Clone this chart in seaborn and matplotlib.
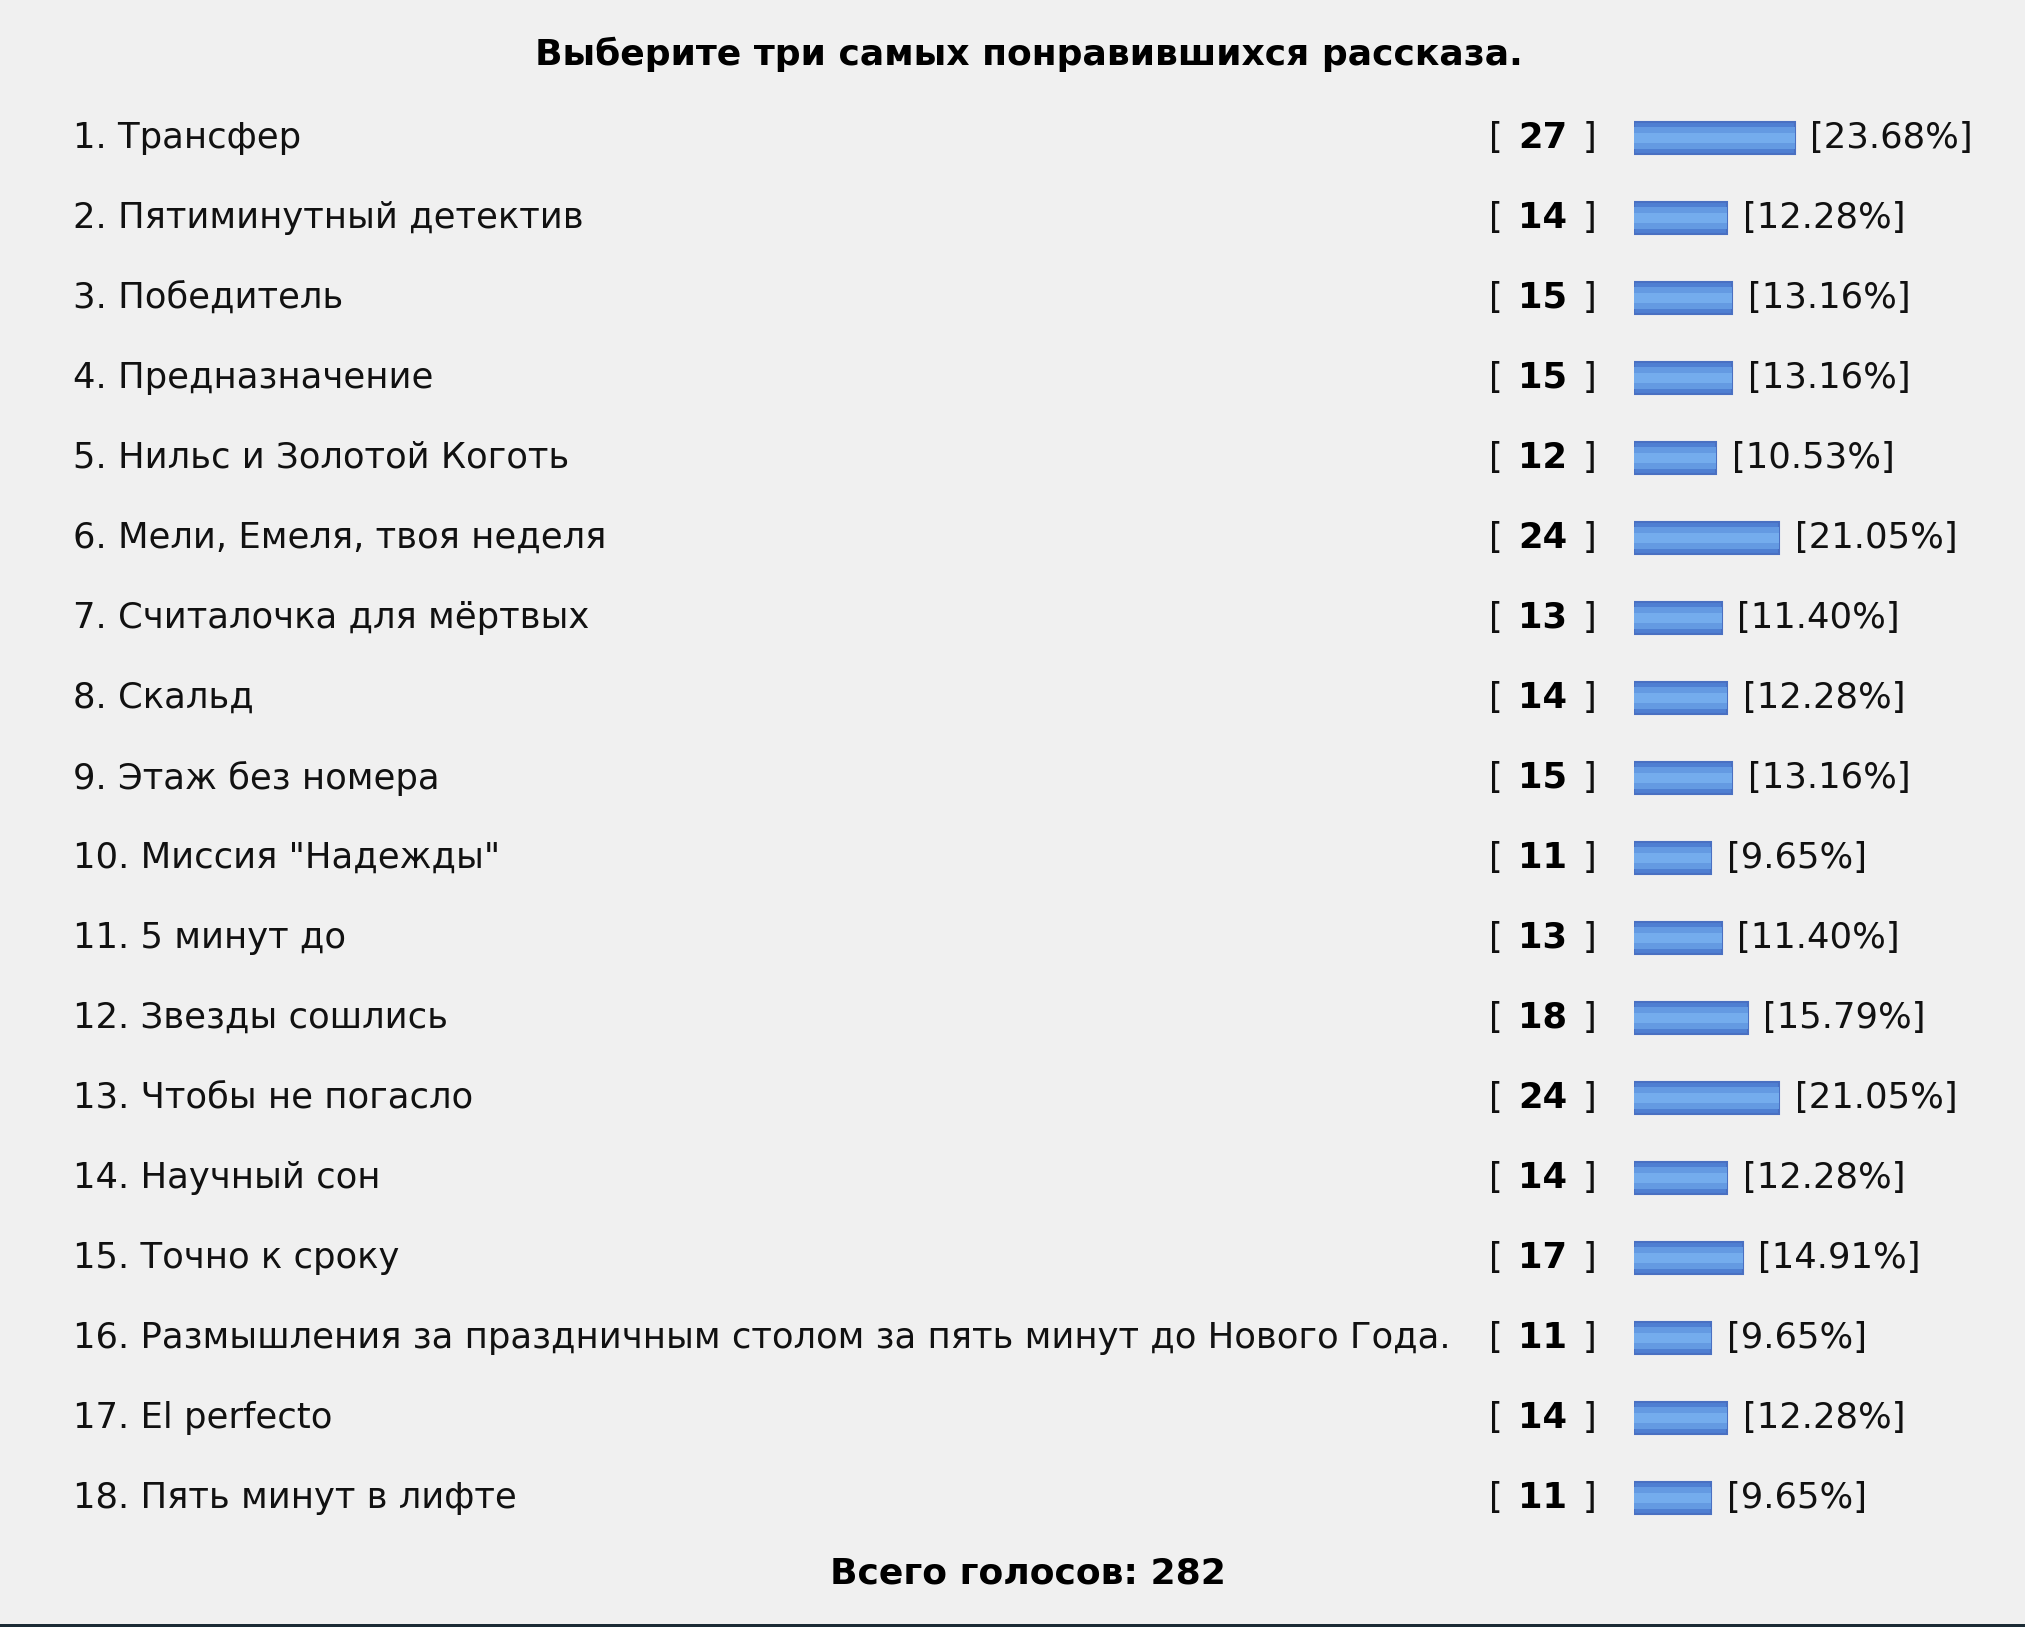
import matplotlib
matplotlib.use("Agg")
import matplotlib.pyplot as plt
import matplotlib.transforms as mtransforms
from matplotlib.patches import Rectangle
import seaborn as sns
import pandas as pd

title = "Выберите три самых понравившихся рассказа."
stories = [
    "1. Трансфер",
    "2. Пятиминутный детектив",
    "3. Победитель",
    "4. Предназначение",
    "5. Нильс и Золотой Коготь",
    "6. Мели, Емеля, твоя неделя",
    "7. Считалочка для мёртвых",
    "8. Скальд",
    "9. Этаж без номера",
    "10. Миссия \"Надежды\"",
    "11. 5 минут до",
    "12. Звезды сошлись",
    "13. Чтобы не погасло",
    "14. Научный сон",
    "15. Точно к сроку",
    "16. Размышления за праздничным столом за пять минут до Нового Года.",
    "17. El perfecto",
    "18. Пять минут в лифте",
]
votes = [27, 14, 15, 15, 12, 24, 13, 14, 15, 11, 13, 18, 24, 14, 17, 11, 14, 11]
percents = [23.68, 12.28, 13.16, 13.16, 10.53, 21.05, 11.40, 12.28, 13.16,
            9.65, 11.40, 15.79, 21.05, 12.28, 14.91, 9.65, 12.28, 9.65]
total_votes = 282

W, H = 2025, 1627
BG = "#f0f0f0"
FS = 25.5
PX_PER_VOTE = 5.22
CAP = 3.8   # end caps of the poll bar image, in vote units
GAP = 3.0

sns.set_theme(style="white")
plt.rcParams["font.family"] = ["DejaVu Sans"]

fig = plt.figure(figsize=(W / 100, H / 100), dpi=100, facecolor=BG)
ax = fig.add_axes([1634 / W, 1 - 1538 / H, 391 / W, 1440 / H])
ax.set_facecolor("none")

df = pd.DataFrame({"story": stories, "bar": [v + CAP for v in votes]})
# poll bar: dark rim, lighter body, light core
sns.barplot(data=df, x="bar", y="story", orient="h", width=0.40,
            color="#4f7fd2", edgecolor="#4a70c2", linewidth=1.5,
            saturation=1, ax=ax)
sns.barplot(data=df, x="bar", y="story", orient="h", width=0.28,
            color="#649ae2", linewidth=0, saturation=1, ax=ax)
sns.barplot(data=df, x="bar", y="story", orient="h", width=0.13,
            color="#74aced", linewidth=0, saturation=1, ax=ax)
ax.set_xlim(0, 391 / PX_PER_VOTE)
ax.set_ylim(len(stories) - 0.5, -0.5)
ax.axis("off")

trans = mtransforms.blended_transform_factory(fig.transFigure, ax.transData)
for i, (name, v, p) in enumerate(zip(stories, votes, percents)):
    ax.text(73 / W, i, name, transform=trans, fontsize=FS, ha="left",
            va="center", color="#111111", clip_on=False)
    ax.text(1489 / W, i, "[", transform=trans, fontsize=FS, ha="left",
            va="center", color="#111111", clip_on=False)
    ax.text(1543 / W, i, str(v), transform=trans, fontsize=FS, ha="center",
            va="center", fontweight="bold", color="#000000", clip_on=False)
    ax.text(1596 / W, i, "]", transform=trans, fontsize=FS, ha="right",
            va="center", color="#111111", clip_on=False)
    ax.text(v + CAP + GAP, i, f"[{p:.2f}%]", fontsize=FS, ha="left",
            va="center", color="#111111", clip_on=False)

fig.text(1029 / W, 1 - 54 / H, title, ha="center", va="center",
         fontsize=26, fontweight="bold", color="#000000")
fig.text(1028 / W, 1 - 1574 / H, f"Всего голосов: {total_votes}", ha="center",
         va="center", fontsize=26, fontweight="bold", color="#000000")
fig.add_artist(Rectangle((0, 0), 1, 3 / H, transform=fig.transFigure,
                         color="#1b2b35", linewidth=0))

fig.savefig("out.png", dpi=100, facecolor=BG)
